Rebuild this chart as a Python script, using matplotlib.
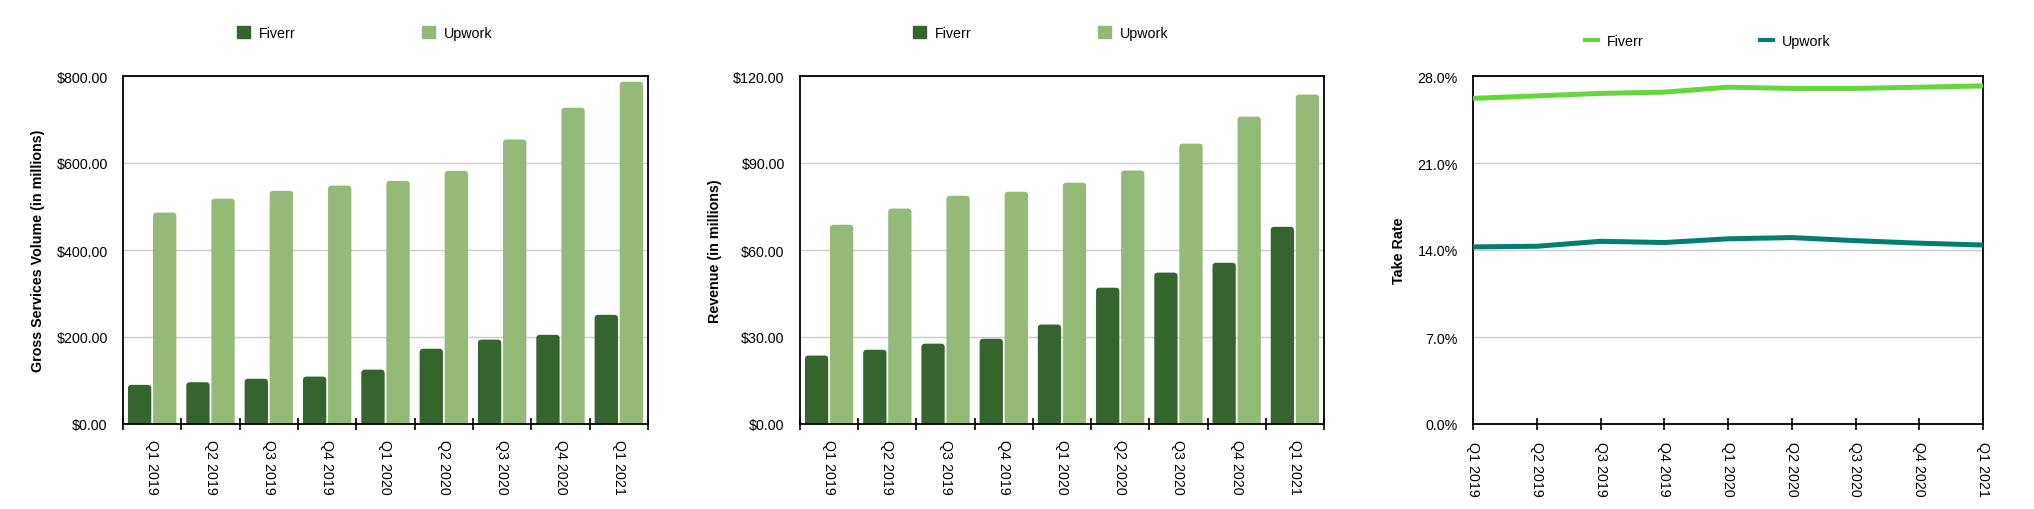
import matplotlib
matplotlib.use("Agg")
import matplotlib.pyplot as plt
import numpy as np
from matplotlib.ticker import FuncFormatter
from matplotlib.patches import FancyBboxPatch, Patch

plt.rcParams['font.family'] = ['Liberation Sans', 'DejaVu Sans']

quarters = ["Q1 2019", "Q2 2019", "Q3 2019", "Q4 2019", "Q1 2020",
            "Q2 2020", "Q3 2020", "Q4 2020", "Q1 2021"]

# gross services volume, $ millions
gsv_fiverr = [90, 96, 104, 109, 125, 173, 194, 205, 251]
gsv_upwork = [486, 518, 536, 548, 559, 582, 654, 727, 787]

# revenue, $ millions
rev_fiverr = [23.6, 25.6, 27.7, 29.4, 34.3, 47.0, 52.2, 55.6, 68.0]
rev_upwork = [68.7, 74.3, 78.7, 80.1, 83.2, 87.4, 96.7, 106.0, 113.6]

# take rate, %
take_fiverr = [26.2, 26.4, 26.6, 26.7, 27.1, 27.0, 27.0, 27.1, 27.2]
take_upwork = [14.25, 14.3, 14.7, 14.6, 14.9, 15.0, 14.75, 14.55, 14.4]

c_fiverr = "#33652d"
c_upwork = "#93ba76"
c_fiverr_line = "#62d83a"
c_upwork_line = "#007f70"

FS = 10.3
W, H = 2034, 510
fig = plt.figure(figsize=(W / 100, H / 100), dpi=100)


def box(x0, x1, y0=77, y1=425):
    return [x0 / W, (H - y1) / H, (x1 - x0) / W, (y1 - y0) / H]


def style_axes(ax):
    for s in ax.spines.values():
        s.set_color("black")
        s.set_linewidth(1.3)
    ax.yaxis.grid(True, color="#cccccc", linewidth=1)
    ax.set_axisbelow(True)
    ax.tick_params(axis="y", length=0, pad=11, labelsize=FS)
    ax.tick_params(axis="x", direction="inout", length=8, width=1.2,
                   labelsize=FS, pad=4)


def round_bars(ax, bars, px_w, top):
    # swap the plain rectangles for ones with rounded top corners
    n = len(quarters)
    xpp = n / px_w
    ypp = top / 348.0
    r = 3.5 * xpp
    for b in bars:
        b.set_visible(False)
        x, w, h = b.get_x(), b.get_width(), b.get_height()
        p = FancyBboxPatch((x, -r * ypp / xpp), w, h + r * ypp / xpp,
                           boxstyle="round,pad=0,rounding_size=%f" % r,
                           mutation_aspect=ypp / xpp,
                           facecolor=b.get_facecolor(), edgecolor="none",
                           zorder=2)
        ax.add_patch(p)


def bar_panel(ax, fiv, upw, top, fmt, ylabel, px_w):
    x = np.arange(len(quarters))
    b1 = ax.bar(x - 0.215, fiv, width=0.40, color=c_fiverr, zorder=2)
    b2 = ax.bar(x + 0.215, upw, width=0.40, color=c_upwork, zorder=2)
    round_bars(ax, b1, px_w, top)
    round_bars(ax, b2, px_w, top)
    ax.set_xlim(-0.5, len(quarters) - 0.5)
    ax.set_ylim(0, top)
    ax.set_yticks(np.linspace(0, top, 5))
    ax.yaxis.set_major_formatter(FuncFormatter(fmt))
    ax.set_xticks(np.arange(len(quarters) + 1) - 0.5)
    ax.set_xticklabels([])
    ax.set_xticks(x, minor=True)
    ax.set_xticklabels(quarters, minor=True, rotation=270, fontsize=FS)
    style_axes(ax)
    ax.tick_params(axis="x", which="minor", length=0, pad=11)
    ax.set_ylabel(ylabel, fontsize=FS, fontweight="bold", labelpad=8)


def bar_legend(ax, cx):
    handles = [Patch(color=c_fiverr, label="Fiverr"),
               Patch(color=c_upwork, label="Upwork")]
    ax.legend(handles=handles, loc="center", bbox_to_anchor=(cx / W, 1 - 34 / H),
              bbox_transform=fig.transFigure, ncol=2, frameon=False,
              fontsize=FS, handlelength=0.9, handleheight=0.9,
              handletextpad=0.65, columnspacing=8.8)


ax1 = fig.add_axes(box(123, 648))
bar_panel(ax1, gsv_fiverr, gsv_upwork, 800,
          lambda v, p: "${:.2f}".format(v),
          "Gross Services Volume (in millions)", 525)
bar_legend(ax1, 365)

ax2 = fig.add_axes(box(800, 1324))
bar_panel(ax2, rev_fiverr, rev_upwork, 120,
          lambda v, p: "${:.2f}".format(v),
          "Revenue (in millions)", 524)
bar_legend(ax2, 1041)

ax3 = fig.add_axes(box(1473, 1983))
xi = np.arange(len(quarters))
ax3.plot(xi, take_fiverr, color=c_fiverr_line, linewidth=3.6, label="Fiverr",
         solid_joinstyle="round", zorder=3)
ax3.plot(xi, take_upwork, color=c_upwork_line, linewidth=3.6, label="Upwork",
         solid_joinstyle="round", zorder=3)
ax3.set_xlim(0, len(quarters) - 1)
ax3.set_ylim(0, 28)
ax3.set_yticks([0, 7, 14, 21, 28])
ax3.yaxis.set_major_formatter(FuncFormatter(lambda v, p: "{:.1f}%".format(v)))
ax3.set_xticks(xi)
ax3.set_xticklabels(quarters, rotation=270, fontsize=FS)
style_axes(ax3)
ax3.tick_params(axis="x", pad=8)
ax3.set_ylabel("Take Rate", fontsize=FS, fontweight="bold", labelpad=8)
leg = ax3.legend(loc="center", bbox_to_anchor=(1708 / W, 1 - 42 / H),
                 bbox_transform=fig.transFigure, ncol=2, frameon=False,
                 fontsize=FS, handlelength=0.9, handletextpad=0.65,
                 columnspacing=8.1)
for ln in leg.get_lines():
    ln.set_linewidth(3)

fig.savefig("out.png", dpi=100)
